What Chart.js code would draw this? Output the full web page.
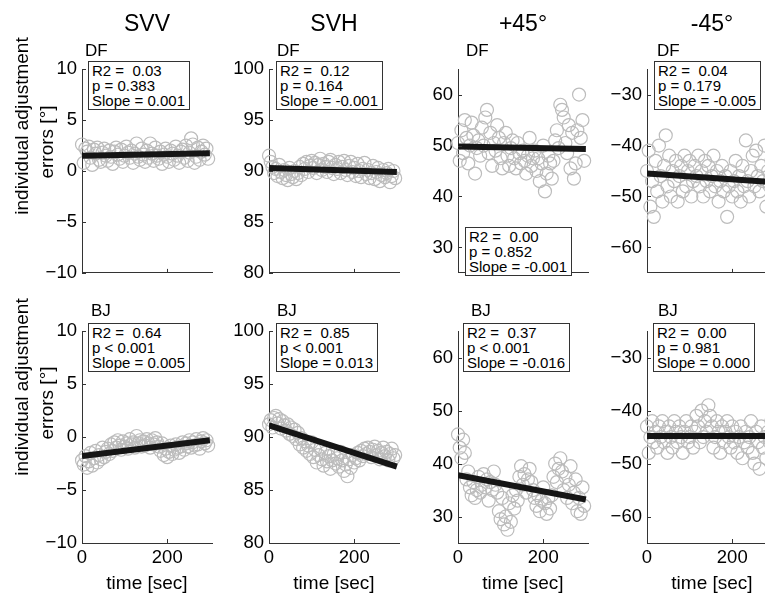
<!DOCTYPE html>
<html>
<head>
<meta charset="utf-8">
<script src="https://cdn.jsdelivr.net/npm/chart.js@4.4.0/dist/chart.umd.min.js"></script>
<style>
  body { margin: 0; background: #fff; }
  #fig { position: relative; width: 765px; height: 597px; overflow: hidden; background: #fff;
         font-family: "Liberation Sans", Arial, sans-serif; color: #000; }
  canvas { position: absolute; }
  .t { position: absolute; white-space: nowrap; }
  .stat { position: absolute; border: 1px solid #333; background: #fff; font-size: 15px;
          line-height: 15px; padding: 1px 4px 1px 3px; white-space: pre; }
</style>
</head>
<body>
<div id="fig"></div>
<script>
// time axis shared by every panel
const timeSec = [0,4,8,12,16,20,24,28,32,36,40,44,48,52,56,60,64,68,72,76,80,84,88,92,96,100,104,108,112,116,
  120,124,128,132,136,140,144,148,152,156,160,164,168,172,176,180,184,188,192,196,200,204,208,212,216,220,224,228,232,236,
  240,244,248,252,256,260,264,268,272,276,280,284,288,292,296];

// subject DF
const svvDF = [2.6,0.8,2.2,1.9,2.4,1.3,0.6,2.1,1.7,2.3,1.1,0.9,1.8,2.2,1.5,
  1.0,2.0,1.4,0.7,1.9,2.3,1.6,1.2,2.1,0.9,1.5,2.4,1.8,1.3,2.0,
  0.8,1.7,2.7,1.4,1.1,2.2,1.6,0.9,2.0,1.3,2.7,1.7,1.0,2.3,1.5,
  1.2,1.9,0.7,1.6,2.2,1.4,0.9,2.0,1.7,1.1,2.4,1.5,0.8,1.9,2.1,
  1.3,2.5,1.0,1.8,3.2,2.6,0.8,1.4,2.3,1.1,1.9,2.5,1.6,2.2,1.2];
const svhDF = [91.5,90.9,90.4,89.8,90.2,89.5,90.6,89.9,89.3,90.1,89.6,89.1,90.3,89.7,89.4,
  90.0,89.2,89.8,90.4,89.6,90.7,90.2,90.9,89.9,90.5,91.0,90.3,90.8,89.8,90.6,
  91.2,90.1,90.7,90.4,89.9,90.9,91.1,90.3,89.7,90.6,90.2,90.9,89.8,90.4,91.0,
  90.1,89.6,90.5,90.9,89.9,90.3,89.5,90.7,90.0,89.4,90.2,90.8,89.7,90.1,89.3,
  89.8,90.5,89.2,89.9,90.3,89.0,89.6,90.1,89.4,89.8,90.2,88.9,89.5,90.0,89.3];
const p45DF = [50.5,47.0,53.0,48.5,55.0,51.5,46.5,50.0,54.5,52.0,44.5,49.5,51.0,48.0,53.5,
  50.0,55.5,57.0,48.5,52.5,46.0,50.5,49.0,54.0,51.5,47.5,45.5,50.5,52.5,48.0,
  46.0,49.5,51.0,47.5,45.5,50.5,48.5,46.5,49.0,47.0,44.5,48.0,51.5,46.0,47.5,
  49.0,45.0,47.5,43.0,46.5,50.0,41.0,44.5,48.0,46.5,43.5,47.0,51.0,53.0,49.5,
  58.0,57.0,55.5,50.5,48.5,54.0,45.5,52.5,43.5,46.5,53.0,60.0,51.5,55.0,47.0];
const m45DF = [-45,-41,-52,-47,-54,-43,-49,-40,-46,-51,-44,-38,-48,-42,-50,
  -45,-47,-43,-51,-46,-44,-49,-42,-48,-45,-43,-50,-47,-44,-46,
  -42,-48,-45,-50,-43,-47,-44,-49,-46,-42,-48,-45,-51,-47,-44,
  -49,-46,-54,-48,-45,-50,-47,-43,-49,-46,-51,-44,-48,-39,-47,
  -50,-45,-42,-48,-41,-46,-49,-44,-47,-40,-52,-45,-48,-43,-50];

// subject BJ
const svvBJ = [-2.2,-2.6,-1.8,-2.9,-2.3,-1.5,-2.7,-2.0,-1.3,-2.4,-1.7,-2.1,-1.0,-1.9,-1.4,
  -1.1,-1.6,-0.7,-1.3,-0.5,-1.0,-0.3,-0.8,-1.2,-0.4,-0.9,-0.6,-1.1,-0.2,-0.7,
  -0.5,-1.0,0.1,-0.6,-0.3,-0.9,-0.4,-0.8,-0.2,-0.6,-1.0,-0.3,-0.7,-0.1,-0.5,
  -0.9,-1.3,-0.6,-1.7,-1.1,-1.9,-1.4,-0.8,-1.6,-1.2,-0.7,-1.0,-1.5,-0.9,-0.5,
  -1.2,-0.6,-0.9,-0.3,-1.0,-0.5,-0.8,-0.2,-0.7,-1.1,-0.4,-0.1,-0.6,-0.3,-0.8];
const svhBJ = [91.2,91.6,90.9,91.8,92.0,91.3,91.7,90.8,91.5,91.1,90.6,91.2,90.3,90.9,90.1,
  90.7,89.8,90.4,89.3,89.9,89.0,89.6,88.7,89.2,88.4,89.5,88.1,88.8,87.6,88.3,
  88.9,87.9,87.3,88.5,87.7,88.2,87.0,87.8,88.4,87.5,88.0,87.2,88.6,87.8,86.8,
  87.4,86.3,87.9,87.1,88.3,87.6,88.0,88.5,87.8,88.7,88.2,88.9,88.4,89.0,88.6,
  88.1,88.8,89.1,88.3,88.7,87.9,88.5,89.0,88.2,88.6,87.8,88.4,88.9,88.0,88.3];
const p45BJ = [45.5,43.0,41.0,44.5,42.0,37.0,38.5,35.5,34.0,36.5,33.5,35.0,37.5,34.5,36.0,
  38.0,35.5,37.0,33.0,36.5,35.0,38.5,36.0,34.5,31.0,29.5,33.5,28.5,30.0,27.5,
  32.5,29.0,34.0,31.5,35.0,33.0,37.5,39.5,36.0,38.0,34.5,37.0,39.0,36.5,35.0,
  33.5,32.0,34.0,31.0,33.0,35.5,32.5,30.5,33.5,31.5,34.0,37.5,40.0,36.5,39.0,
  41.0,38.5,35.0,37.5,33.5,36.0,39.5,32.5,34.5,37.0,31.0,33.5,30.5,35.5,32.0];
const m45BJ = [-43,-48,-45,-42,-46,-44,-47,-43,-45,-42,-46,-44,-48,-43,-45,
  -47,-42,-44,-46,-43,-45,-48,-44,-42,-46,-45,-43,-47,-44,-41,
  -43,-46,-40,-45,-42,-44,-39,-41,-43,-47,-45,-42,-44,-48,-43,
  -46,-44,-42,-45,-47,-43,-46,-44,-48,-45,-43,-49,-46,-44,-47,
  -45,-42,-48,-50,-44,-46,-51,-43,-47,-45,-49,-44,-46,-42,-48];

// regression line end points (t = 0 and t = 300)
const fitStart = [1.5, 90.3, 49.8, -45.5, -1.8, 91.1, 37.8, -44.8];
const fitEnd   = [1.75, 89.9, 49.3, -47.2, -0.3, 87.2, 33.2, -44.8];

const conditions = ['SVV', 'SVH', '+45°', '-45°'];
const subjects = ['DF', 'BJ'];
const yMin = [-10, 80, 25, -65];
const yMax = [10, 100, 65, -25];
const yTicks = [[-10,-5,0,5,10],[80,85,90,95,100],[30,40,50,60],[-60,-50,-40,-30]];
const xTicks = [0, 200];
const stats = [
  ['R2 =  0.03', 'p = 0.383', 'Slope = 0.001'],
  ['R2 =  0.12', 'p = 0.164', 'Slope = -0.001'],
  ['R2 =  0.00', 'p = 0.852', 'Slope = -0.001'],
  ['R2 =  0.04', 'p = 0.179', 'Slope = -0.005'],
  ['R2 =  0.64', 'p < 0.001', 'Slope = 0.005'],
  ['R2 =  0.85', 'p < 0.001', 'Slope = 0.013'],
  ['R2 =  0.37', 'p < 0.001', 'Slope = -0.016'],
  ['R2 =  0.00', 'p = 0.981', 'Slope = 0.000']
];
const series = [svvDF, svhDF, p45DF, m45DF, svvBJ, svhBJ, p45BJ, m45BJ];

// layout
const FONT = '"Liberation Sans", Arial, sans-serif';
const colLeft = [82, 269, 458, 647];
const rowTop = [61, 323];
const areaW = 130, areaH = 220;
const statPos = [[88,61],[276,61],[465,227],[654,61],[88,323],[276,323],[463,323],[653,323]];
const subjX = [[85,277,466,657],[91,277,471,658]];
const subjY = [51, 311];

const fig = document.getElementById('fig');

function addText(txt, x, y, size, tf, extra) {
  const d = document.createElement('div');
  d.className = 't';
  d.textContent = txt;
  d.style.left = x + 'px';
  d.style.top = y + 'px';
  d.style.fontSize = size + 'px';
  d.style.transform = tf;
  if (extra) Object.assign(d.style, extra);
  fig.appendChild(d);
  return d;
}

const innerTicks = {
  id: 'innerTicks',
  afterDraw(chart) {
    const { ctx, chartArea: a, scales: { x, y } } = chart;
    ctx.save();
    ctx.strokeStyle = '#333';
    ctx.lineWidth = 1;
    ctx.beginPath();
    y.ticks.forEach(t => {
      const py = Math.round(y.getPixelForValue(t.value)) + 0.5;
      ctx.moveTo(a.left, py); ctx.lineTo(a.left + 4, py);
    });
    x.ticks.forEach(t => {
      const px = Math.round(x.getPixelForValue(t.value)) + 0.5;
      ctx.moveTo(px, a.bottom); ctx.lineTo(px, a.bottom - 4);
    });
    ctx.stroke();
    ctx.restore();
  }
};

for (let r = 0; r < 2; r++) {
  for (let c = 0; c < 4; c++) {
    const i = r * 4 + c;
    const padTop = 8, padRight = 8, yW = 60, xH = r ? 50 : 8;
    const cv = document.createElement('canvas');
    cv.width = yW + areaW + padRight;
    cv.height = padTop + areaH + xH;
    cv.style.left = (colLeft[c] - yW) + 'px';
    cv.style.top = (rowTop[r] - padTop) + 'px';
    fig.appendChild(cv);

    const pts = timeSec.map((t, k) => ({ x: t, y: series[i][k] }));

    new Chart(cv, {
      type: 'scatter',
      data: {
        datasets: [
          {
            type: 'line',
            data: [{ x: 0, y: fitStart[i] }, { x: 300, y: fitEnd[i] }],
            borderColor: '#151515',
            borderWidth: 6,
            borderCapStyle: 'butt',
            pointRadius: 0,
            order: 0
          },
          {
            data: pts,
            pointStyle: 'circle',
            pointRadius: 6.5,
            borderColor: '#bcbcbc',
            borderWidth: 1.2,
            backgroundColor: 'rgba(0,0,0,0)',
            clip: false,
            order: 1
          }
        ]
      },
      options: {
        responsive: false,
        animation: false,
        devicePixelRatio: 1,
        layout: { padding: { top: padTop, right: padRight, left: 0, bottom: 0 } },
        plugins: { legend: { display: false }, tooltip: { enabled: false } },
        scales: {
          x: {
            type: 'linear',
            min: 0,
            max: 305,
            afterBuildTicks: s => { s.ticks = xTicks.map(v => ({ value: v })); },
            afterFit: s => { s.height = xH; },
            grid: { display: false, drawTicks: false },
            border: { display: true, color: '#333', width: 1 },
            ticks: {
              display: r === 1,
              color: '#000',
              padding: 4,
              maxRotation: 0,
              autoSkip: false,
              font: { family: FONT, size: 18.5 }
            }
          },
          y: {
            min: yMin[c],
            max: yMax[c],
            afterBuildTicks: s => { s.ticks = yTicks[c].map(v => ({ value: v })); },
            afterFit: s => { s.width = yW; },
            grid: { display: false, drawTicks: false },
            border: { display: true, color: '#333', width: 1 },
            ticks: {
              color: '#000',
              padding: 5,
              font: { family: FONT, size: 18.5 },
              callback: v => String(v).replace('-', '\u2212')
            }
          }
        }
      },
      plugins: [innerTicks]
    });

    // subject label above each axis
    addText(subjects[r], subjX[r][c], subjY[r], 17, 'translateY(-50%)');

    // stats box
    const box = document.createElement('div');
    box.className = 'stat';
    box.textContent = stats[i].join('\n');
    box.style.left = statPos[i][0] + 'px';
    box.style.top = statPos[i][1] + 'px';
    fig.appendChild(box);

    if (r === 0) addText(conditions[c], colLeft[c] + areaW / 2, 23, 23, 'translate(-50%,-50%)');
    if (r === 1) addText('time [sec]', colLeft[c] + areaW / 2, 583, 19, 'translate(-50%,-50%)');
  }
}

// y-axis labels (two lines each row)
[[126, 142], [387, 403]].forEach(([y1, y2]) => {
  addText('individual adjustment', 22, y1, 19, 'translate(-50%,-50%) rotate(-90deg)');
  addText('errors [°]', 47, y2, 19, 'translate(-50%,-50%) rotate(-90deg)');
});
</script>
</body>
</html>
